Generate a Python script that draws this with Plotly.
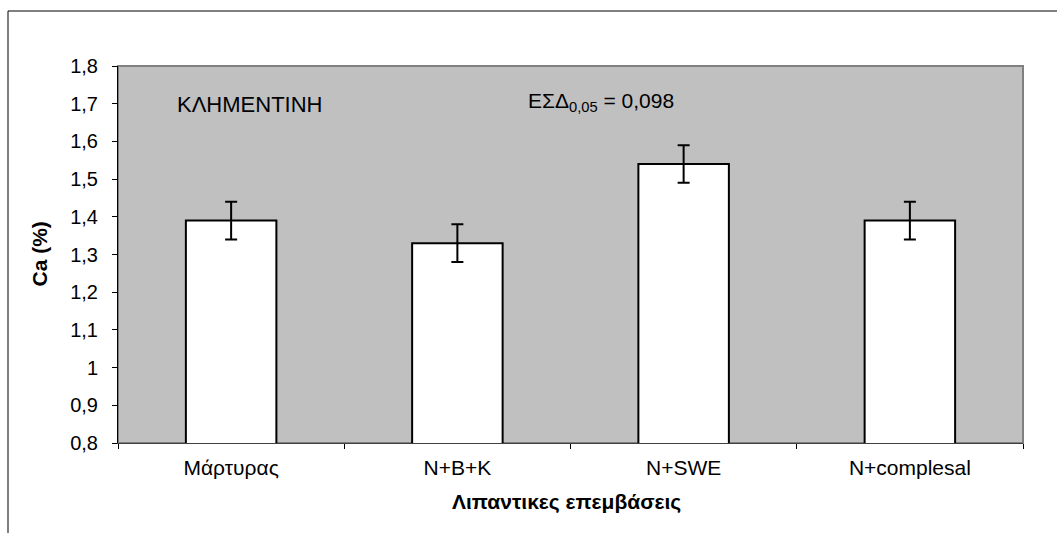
import plotly.graph_objects as go

# Treatments and calcium content (%) with ± error
treatments = ["Μάρτυρας", "N+B+K", "N+SWE", "N+complesal"]
ca_values = [1.39, 1.33, 1.54, 1.39]
ca_errors = [0.05, 0.05, 0.05, 0.05]

y_tick_vals = [0.8, 0.9, 1.0, 1.1, 1.2, 1.3, 1.4, 1.5, 1.6, 1.7, 1.8]
y_tick_text = ["0,8", "0,9", "1", "1,1", "1,2", "1,3", "1,4", "1,5", "1,6", "1,7", "1,8"]

FONT = "Liberation Sans, Arial, sans-serif"

fig = go.Figure(
    go.Bar(
        x=treatments,
        y=ca_values,
        base=0,
        marker=dict(color="white", line=dict(color="black", width=2)),
        error_y=dict(type="data", array=ca_errors, visible=True,
                     color="black", thickness=2, width=6),
        width=0.4,
    )
)

W, H = 1057, 533
L, R, T, B = 118, 34, 66, 90
pw, ph = W - L - R, H - T - B


def px_x(p):
    return (p - L) / pw


def px_y(p):
    return (H - B - p) / ph


fig.update_layout(
    width=W, height=H,
    margin=dict(l=L, r=R, t=T, b=B, pad=0),
    paper_bgcolor="white",
    plot_bgcolor="#C0C0C0",
    showlegend=False,
    font=dict(family=FONT, size=20, color="black"),
    xaxis=dict(
        type="category",
        tickson="boundaries",
        ticks="outside", ticklen=5, tickcolor="black", tickwidth=1,
        showline=True, linecolor="#404040", linewidth=1,
        showgrid=False, zeroline=False,
        ticklabelstandoff=6,
        tickfont=dict(size=21),
    ),
    yaxis=dict(
        range=[0.8, 1.8],
        tickvals=y_tick_vals, ticktext=y_tick_text,
        ticks="outside", ticklen=5, tickcolor="black", tickwidth=1,
        showline=True, linecolor="black", linewidth=1,
        showgrid=False, zeroline=False,
        ticklabelstandoff=10,
        tickfont=dict(size=20),
    ),
    shapes=[
        # plot-area frame
        dict(type="rect", xref="paper", yref="paper", x0=0, x1=1, y0=0, y1=1,
             line=dict(color="#808080", width=2), layer="below"),
        # chart-area border
        dict(type="rect", xref="paper", yref="paper",
             x0=px_x(8), x1=px_x(1100), y0=px_y(600), y1=px_y(11),
             line=dict(color="black", width=1)),
    ],
    annotations=[
        dict(text="ΚΛΗΜΕΝΤΙΝΗ", xref="paper", yref="paper",
             x=px_x(175), y=px_y(104), xanchor="left", yanchor="middle",
             showarrow=False, font=dict(size=22)),
        dict(text="ΕΣΔ<sub>0,05</sub> = 0,098", xref="paper", yref="paper",
             x=px_x(526), y=px_y(102), xanchor="left", yanchor="middle",
             showarrow=False, font=dict(size=21)),
        dict(text="<b>Ca (%)</b>", xref="paper", yref="paper",
             x=px_x(39), y=0.5, xanchor="center", yanchor="middle",
             textangle=-90, showarrow=False, font=dict(size=21)),
        dict(text="<b>Λιπαντικες επεμβάσεις</b>", xref="paper", yref="paper",
             x=px_x(566), y=px_y(502), xanchor="center", yanchor="middle",
             showarrow=False, font=dict(size=21)),
    ],
)

fig.write_html("out.html")
